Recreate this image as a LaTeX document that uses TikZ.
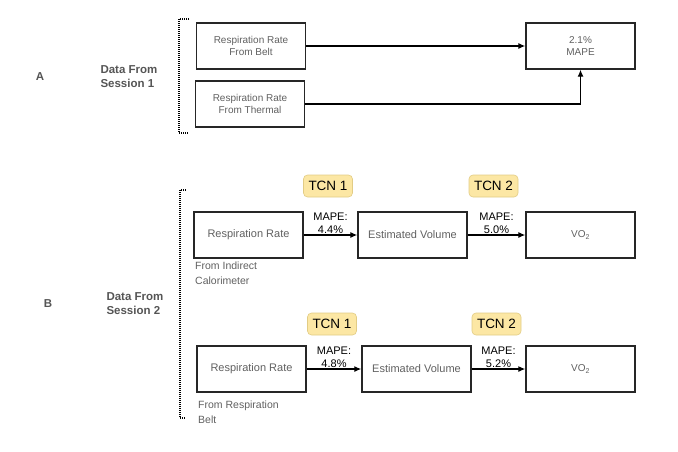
\documentclass[tikz,border=0pt]{standalone}
\usepackage{fontspec}
\setmainfont{Liberation Sans}
\usetikzlibrary{arrows.meta,positioning}
\definecolor{boxtext}{HTML}{606060}
\definecolor{sidetext}{HTML}{555555}
\definecolor{tagfill}{HTML}{FCE7A4}
\definecolor{tagedge}{HTML}{E2CC85}
\begin{document}
\begin{tikzpicture}[
                x=1pt, y=-1pt,
                box/.style={draw=black!85, line width=1.4pt, minimum width=109pt, minimum height=46pt,
                            inner sep=0pt, align=center, text=boxtext, font=\fontsize{10}{12}\selectfont},
                tag/.style={fill=tagfill, draw=tagedge, line width=0.6pt, rounded corners=4pt, minimum width=49pt,
                            minimum height=22pt, inner sep=0pt, font=\fontsize{13.5}{15}\selectfont},
                mapelabel/.style={anchor=south, align=center, inner sep=1pt, font=\fontsize{11}{12.5}\selectfont},
                source/.style={anchor=north west, align=left, inner sep=0pt, text=boxtext,
                               font=\fontsize{10.5}{15}\selectfont},
                side/.style={align=left, text=sidetext, font=\bfseries\fontsize{11.5}{14}\selectfont},
                flow/.style={-{Latex[length=7pt,width=6pt]}, line width=1.2pt},
                bracket/.style={dash pattern=on 1pt off 1pt, line width=1.2pt}
            ]
            \useasboundingbox (0,0) rectangle (678,452);
            \node[side] (labelA) at (40,77) {A};
            \node[side, anchor=west] (sessionA) at (97,77) {Data From\\Session 1};
            \draw[bracket] (189,19) -- (179,19) -- (179,133) -- (189,133);
            \node[box] (belt) at (251,46) {Respiration Rate\\From Belt};
            \node[box] (thermal) at (250,104) {Respiration Rate\\From Thermal};
            \node[box] (mapeA) at (580.5,46) {2.1\%\\MAPE};
            \draw[flow] (belt.east) -- (mapeA.west);
            \draw[flow] (thermal.east) -| (mapeA.south);

            \node[side] (labelB) at (48,304) {B};
            \node[side, anchor=west] (sessionB) at (103,304) {Data From\\Session 2};
            \draw[bracket] (186,190) -- (180,190) -- (180,418) -- (186,418);

            \node[box, font=\fontsize{11}{13}\selectfont] (rateIC) at (248.5,235) {Respiration Rate};
            \node[box, font=\fontsize{11}{13}\selectfont] (volIC) at (412.5,235) {Estimated Volume};
            \node[box] (vo2IC) at (580.5,235) {VO\textsubscript{2}};
            \node[tag] (tcnOneIC) at (328,186) {TCN 1};
            \node[tag] (tcnTwoIC) at (493.5,186) {TCN 2};
            \draw[flow] (rateIC.east) -- node[mapelabel] {MAPE:\\4.4\%} (volIC.west);
            \draw[flow] (volIC.east) -- node[mapelabel] {MAPE:\\5.0\%} (vo2IC.west);
            \node[source] (fromIC) at (195,262) {From Indirect\\Calorimeter};

            \node[box, font=\fontsize{11}{13}\selectfont] (rateRB) at (251.5,369) {Respiration Rate};
            \node[box, font=\fontsize{11}{13}\selectfont] (volRB) at (416.5,369) {Estimated Volume};
            \node[box] (vo2RB) at (580.5,369) {VO\textsubscript{2}};
            \node[tag] (tcnOneRB) at (332,324) {TCN 1};
            \node[tag] (tcnTwoRB) at (496.5,324) {TCN 2};
            \draw[flow] (rateRB.east) -- node[mapelabel] {MAPE:\\4.8\%} (volRB.west);
            \draw[flow] (volRB.east) -- node[mapelabel] {MAPE:\\5.2\%} (vo2RB.west);
            \node[source] (fromRB) at (198,401) {From Respiration\\Belt};
        \end{tikzpicture}
\end{document}
